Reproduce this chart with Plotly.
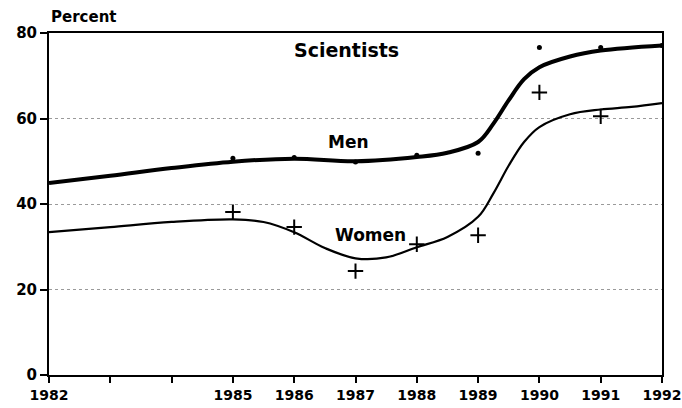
import plotly.graph_objects as go

# smoothed trend curves
men_curve_x = [1982, 1983, 1984, 1985, 1986, 1987, 1988, 1988.5, 1989, 1989.25, 1989.5, 1989.75,
               1990, 1990.5, 1991, 1992]
men_curve_y = [44.9, 46.6, 48.4, 49.9, 50.6, 50.0, 51.0, 52.0, 54.5, 58.8, 64.3, 69.2,
               72.0, 74.5, 75.9, 77.1]

women_curve_x = [1982, 1983, 1984, 1985, 1985.5, 1986, 1986.5, 1987, 1987.5, 1988, 1988.5,
                 1989, 1989.25, 1989.5, 1989.75, 1990, 1990.5, 1991, 1991.5, 1992]
women_curve_y = [33.4, 34.6, 35.8, 36.4, 35.8, 33.4, 29.7, 27.3, 27.5, 29.9, 32.3,
                 37.0, 42.5, 49.0, 54.5, 58.0, 61.0, 62.1, 62.7, 63.6]

# observed points
men_years = [1985, 1986, 1987, 1988, 1989, 1990, 1991, 1992]
men_pct = [50.7, 50.9, 49.8, 51.4, 51.9, 76.6, 76.6, 77.1]

women_years = [1985, 1986, 1987, 1988, 1989, 1990, 1991]
women_pct = [38.1, 34.6, 24.3, 30.6, 32.7, 66.1, 60.5]

x_ticks = list(range(1982, 1993))
x_labels = ["1982", "", "", "1985", "1986", "1987", "1988", "1989", "1990", "1991", "1992"]
y_ticks = [0, 20, 40, 60, 80]

FONT = "DejaVu Sans"

fig = go.Figure()

fig.add_trace(go.Scatter(
    x=men_curve_x, y=men_curve_y, mode="lines", line_shape="spline",
    line=dict(color="black", width=4), hoverinfo="skip",
))
fig.add_trace(go.Scatter(
    x=women_curve_x, y=women_curve_y, mode="lines", line_shape="spline",
    line=dict(color="black", width=2.2), hoverinfo="skip",
))
fig.add_trace(go.Scatter(
    x=men_years, y=men_pct, mode="markers",
    marker=dict(symbol="circle", size=5, color="black"),
))
fig.add_trace(go.Scatter(
    x=women_years, y=women_pct, mode="markers",
    marker=dict(symbol="cross-thin", size=11, line=dict(color="black", width=2)),
))

bold = dict(family=FONT, size=19, color="black", weight="bold")
fig.add_annotation(x=1986.86, y=76.0, text="Scientists", showarrow=False, font=bold)
fig.add_annotation(x=1986.88, y=54.5, text="Men", showarrow=False, font=dict(bold, size=17))
fig.add_annotation(x=1987.24, y=32.7, text="Women", showarrow=False, font=dict(bold, size=17))
fig.add_annotation(
    x=0, y=1.047, xref="paper", yref="paper", xanchor="left", yanchor="middle",
    text="Percent", showarrow=False, font=dict(family=FONT, size=15, color="black", weight="bold"),
)

fig.update_xaxes(
    range=[1982, 1992], tickvals=x_ticks, ticktext=x_labels,
    ticks="outside", ticklen=6, tickwidth=2, tickcolor="black",
    showline=True, linewidth=2, linecolor="black", mirror=True,
    showgrid=False, zeroline=False, automargin=False,
    tickfont=dict(family=FONT, size=14, color="black", weight="bold"),
)
fig.update_yaxes(
    range=[0, 80], tickvals=y_ticks,
    ticks="outside", ticklen=7, tickwidth=2, tickcolor="black",
    showline=True, linewidth=2, linecolor="black", mirror=True,
    showgrid=True, gridcolor="#9a9a9a", gridwidth=1, griddash="dot",
    zeroline=False, automargin=False,
    tickfont=dict(family=FONT, size=15, color="black", weight="bold"),
)

fig.update_layout(
    width=682, height=408,
    margin=dict(l=49, r=20, t=33, b=33),
    plot_bgcolor="white", paper_bgcolor="white",
    showlegend=False,
)

# page has a default 8px body margin; drop it so the chart fills the window
fig.write_html(
    "out.html",
    config={"displayModeBar": False},
    post_script="document.body.style.margin='0';",
)
